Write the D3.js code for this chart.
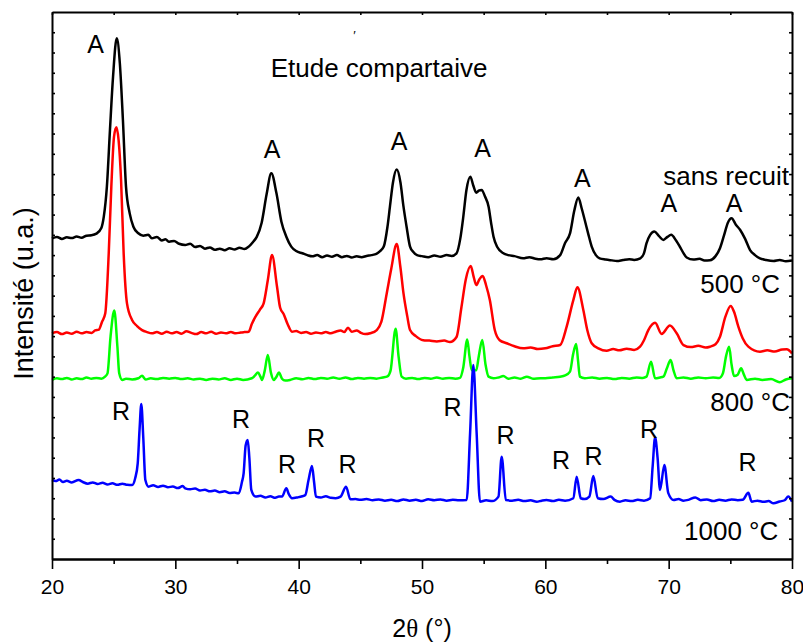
<!DOCTYPE html>
<html><head><meta charset="utf-8">
<script src="https://cdn.jsdelivr.net/npm/d3@7"></script>
<style>body{margin:0;background:#fff}</style>
</head><body><svg id="c" width="803" height="643"></svg>
<script>
const xTicksMajor=[20,30,40,50,60,70,80];
const xTicksMinor=[25,35,45,55,65,75];
const yTicks=d3.range(100,2700,100);

const sansRecuit=[[20.0,1582],[20.4,1590],[20.8,1580],[21.2,1588],[21.6,1584],[22.0,1592],[22.4,1586],[22.8,1596],[23.2,1598],[23.6,1606],[24.0,1634],[24.2,1690],[24.45,1838],[24.7,2118],[24.95,2381],[25.25,2570],[25.5,2447],[25.75,2167],[26.0,1838],[26.3,1706],[26.6,1640],[27.0,1608],[27.4,1596],[27.8,1600],[28.1,1583],[28.5,1590],[28.9,1572],[29.2,1578],[29.5,1566],[29.9,1570],[30.3,1556],[30.8,1550],[31.2,1556],[31.6,1540],[32.0,1545],[32.4,1532],[32.8,1538],[33.2,1526],[33.6,1532],[34.0,1524],[34.4,1534],[34.8,1528],[35.2,1536],[35.6,1530],[35.95,1542],[36.3,1565],[36.6,1590],[37.0,1660],[37.4,1800],[37.78,1904],[38.2,1805],[38.6,1665],[39.0,1591],[39.4,1542],[39.8,1520],[40.3,1509],[40.7,1500],[41.1,1494],[41.5,1500],[41.9,1490],[42.3,1498],[42.7,1492],[43.1,1500],[43.5,1490],[43.9,1496],[44.3,1488],[44.7,1494],[45.1,1490],[45.5,1496],[45.9,1500],[46.3,1506],[46.6,1520],[46.9,1542],[47.2,1640],[47.4,1739],[47.65,1860],[47.95,1922],[48.25,1860],[48.5,1739],[48.75,1640],[49.03,1542],[49.3,1515],[49.6,1500],[50.0,1495],[50.5,1490],[51.0,1498],[51.5,1492],[52.0,1500],[52.4,1496],[52.8,1509],[53.1,1580],[53.35,1690],[53.6,1820],[53.92,1887],[54.15,1845],[54.4,1808],[54.6,1818],[54.84,1822],[55.1,1790],[55.4,1739],[55.6,1660],[55.8,1591],[56.1,1540],[56.6,1509],[57.0,1500],[57.5,1495],[58.2,1484],[58.7,1490],[59.2,1482],[59.6,1479],[60.1,1485],[60.65,1480],[61.2,1500],[61.6,1560],[62.0,1607],[62.35,1720],[62.67,1784],[62.95,1730],[63.2,1672],[63.5,1600],[63.76,1542],[64.1,1500],[64.4,1484],[64.9,1478],[65.4,1474],[65.8,1471],[66.3,1476],[66.8,1480],[67.2,1476],[67.7,1484],[68.0,1510],[68.2,1558],[68.5,1600],[68.84,1616],[69.2,1595],[69.57,1575],[69.9,1590],[70.2,1600],[70.6,1572],[70.9,1542],[71.2,1510],[71.46,1488],[72.0,1478],[72.5,1482],[72.9,1474],[73.35,1475],[73.8,1495],[74.16,1534],[74.5,1600],[74.8,1660],[75.1,1682],[75.45,1650],[75.8,1624],[76.2,1580],[76.6,1525],[77.0,1500],[77.4,1484],[77.9,1476],[78.5,1471],[79.0,1476],[79.5,1470],[80.0,1473]];

const recuit500=[[20.0,1114],[20.4,1120],[20.8,1110],[21.2,1118],[21.6,1112],[22.0,1122],[22.4,1114],[22.8,1120],[23.2,1116],[23.5,1128],[23.8,1132],[24.05,1170],[24.32,1213],[24.6,1509],[24.81,1838],[25.03,2085],[25.22,2131],[25.4,2068],[25.6,1871],[25.81,1509],[26.08,1262],[26.49,1180],[26.9,1150],[27.3,1130],[27.7,1120],[28.1,1114],[28.5,1120],[28.9,1112],[29.3,1122],[29.7,1114],[30.1,1120],[30.5,1112],[30.9,1124],[31.3,1116],[31.7,1110],[32.1,1120],[32.5,1114],[32.9,1122],[33.3,1112],[33.7,1118],[34.1,1114],[34.5,1120],[34.9,1114],[35.3,1118],[35.6,1120],[35.95,1122],[36.2,1160],[36.5,1196],[36.85,1230],[37.16,1262],[37.5,1377],[37.84,1500],[38.24,1346],[38.5,1240],[38.78,1209],[39.1,1160],[39.46,1122],[39.8,1125],[40.2,1116],[40.6,1120],[41.0,1112],[41.4,1118],[41.8,1114],[42.2,1120],[42.6,1114],[43.0,1122],[43.4,1128],[43.7,1120],[44.0,1142],[44.3,1122],[44.7,1128],[45.0,1118],[45.4,1110],[45.8,1114],[46.33,1130],[46.7,1170],[47.14,1311],[47.5,1430],[47.95,1555],[48.25,1440],[48.5,1311],[48.8,1200],[49.03,1130],[49.5,1100],[50.1,1080],[50.6,1078],[51.2,1074],[51.8,1078],[52.27,1071],[52.8,1096],[53.2,1244],[53.55,1380],[53.95,1446],[54.2,1390],[54.4,1352],[54.65,1380],[54.92,1397],[55.2,1350],[55.5,1278],[55.9,1130],[56.3,1080],[56.87,1065],[57.5,1050],[58.2,1040],[58.8,1044],[59.4,1036],[60.0,1040],[60.6,1050],[61.2,1056],[61.73,1147],[62.27,1278],[62.6,1341],[63.08,1229],[63.4,1130],[63.76,1065],[64.3,1040],[64.97,1028],[65.5,1036],[66.0,1030],[66.6,1038],[67.2,1032],[67.68,1048],[68.0,1080],[68.35,1130],[68.9,1166],[69.43,1111],[70.1,1152],[70.65,1114],[71.2,1056],[71.8,1046],[72.4,1052],[73.0,1044],[73.35,1048],[73.8,1060],[74.16,1097],[74.6,1196],[75.03,1249],[75.3,1220],[75.65,1147],[76.0,1090],[76.46,1048],[77.4,1023],[78.0,1030],[78.6,1024],[79.2,1034],[79.57,1035],[80.0,1015]];

const recuit800=[[20.0,884],[20.4,892],[20.8,888],[21.2,894],[21.6,886],[22.0,892],[22.4,888],[22.8,896],[23.2,890],[23.6,894],[24.0,890],[24.3,900],[24.5,916],[24.75,1100],[25.05,1226],[25.3,1050],[25.45,917],[25.7,884],[26.0,890],[26.5,886],[27.0,892],[27.3,904],[27.6,886],[28.0,892],[28.5,888],[29.0,894],[29.5,890],[30.0,894],[30.5,888],[31.0,892],[31.5,886],[32.0,890],[32.5,884],[33.0,890],[33.5,886],[34.0,892],[34.5,884],[35.0,890],[35.5,884],[36.2,892],[36.45,905],[36.7,920],[36.9,900],[37.03,884],[37.25,930],[37.5,1007],[37.75,920],[37.98,884],[38.2,900],[38.4,920],[38.65,890],[38.9,881],[39.3,884],[39.8,892],[40.3,887],[40.8,894],[41.3,888],[41.8,894],[42.3,890],[42.8,896],[43.3,890],[43.8,896],[44.3,888],[44.8,894],[45.3,890],[45.8,894],[46.3,890],[46.8,896],[47.2,902],[47.45,930],[47.86,1137],[48.1,1000],[48.35,900],[48.7,890],[49.2,894],[49.7,888],[50.2,894],[50.7,890],[51.2,896],[51.7,890],[52.2,894],[52.7,890],[53.08,894],[53.35,947],[53.67,1084],[53.85,1000],[54.03,932],[54.4,932],[54.6,1000],[54.89,1081],[55.15,960],[55.4,900],[55.8,892],[56.2,896],[56.6,903],[57.0,890],[57.5,896],[58.0,890],[58.5,900],[59.0,890],[59.6,892],[60.0,892],[60.6,896],[61.19,900],[61.6,906],[62.0,925],[62.25,1010],[62.5,1061],[62.65,980],[62.8,900],[63.2,892],[63.8,896],[64.4,890],[65.0,894],[65.6,888],[66.2,894],[66.8,890],[67.4,896],[67.9,894],[68.2,900],[68.57,974],[68.9,892],[69.3,896],[69.57,900],[69.85,940],[70.16,982],[70.4,930],[70.65,892],[71.2,896],[71.8,890],[72.4,896],[73.0,892],[73.6,896],[74.1,894],[74.4,917],[74.65,1000],[74.9,1048],[75.1,960],[75.3,903],[75.6,910],[75.87,941],[76.1,910],[76.33,884],[77.0,890],[77.6,884],[78.3,888],[79.0,873],[79.5,886],[80.0,892]];

const recuit1000=[[20.0,390],[20.3,385],[20.6,392],[20.9,380],[21.2,386],[21.6,378],[22.16,390],[22.5,380],[22.9,372],[23.3,378],[23.7,370],[24.1,376],[24.5,368],[24.9,374],[25.3,366],[25.7,372],[26.1,366],[26.5,365],[26.75,400],[26.95,472],[27.1,640],[27.24,765],[27.4,600],[27.57,390],[27.84,357],[28.2,364],[28.6,356],[29.0,362],[29.4,354],[29.8,358],[30.2,350],[30.6,360],[30.8,349],[31.2,344],[31.6,348],[32.0,338],[32.4,342],[32.8,334],[33.2,338],[33.6,330],[34.0,334],[34.4,326],[34.8,328],[35.14,324],[35.4,380],[35.54,424],[35.7,560],[35.87,587],[36.0,500],[36.16,341],[36.5,308],[36.9,312],[37.3,304],[37.7,310],[38.1,302],[38.4,308],[38.65,308],[39.0,349],[39.2,320],[39.46,300],[39.9,304],[40.3,310],[40.54,316],[40.8,390],[41.08,459],[41.25,380],[41.4,308],[41.8,304],[42.2,310],[42.6,302],[43.0,300],[43.4,308],[43.84,357],[44.19,295],[44.6,296],[45.0,292],[45.5,296],[46.0,290],[46.5,294],[47.0,288],[47.5,292],[48.0,286],[48.5,294],[49.0,288],[49.5,292],[50.0,286],[50.5,295],[51.0,290],[51.5,294],[52.0,288],[52.5,292],[53.0,290],[53.62,291],[53.9,622],[54.16,958],[54.43,622],[54.7,283],[55.2,290],[55.7,286],[56.2,308],[56.46,505],[56.8,291],[57.3,288],[57.8,292],[58.3,286],[58.8,290],[59.3,283],[59.7,288],[60.1,291],[60.6,286],[61.1,292],[61.6,288],[62.27,300],[62.54,406],[62.87,300],[63.2,296],[63.57,308],[63.89,410],[64.25,300],[64.7,296],[65.3,308],[65.6,292],[66.05,283],[66.5,290],[67.0,286],[67.5,292],[68.0,288],[68.5,300],[68.7,456],[68.9,601],[69.1,500],[69.3,341],[69.65,464],[69.97,325],[70.4,291],[70.8,296],[71.2,288],[71.6,292],[72.16,304],[72.6,290],[73.1,294],[73.6,286],[74.1,292],[74.6,288],[75.1,294],[75.6,290],[76.0,292],[76.46,327],[76.73,283],[77.2,288],[77.7,282],[78.1,286],[78.5,275],[79.0,284],[79.4,290],[79.7,308],[80.0,283]];

const seriesNames=["sans recuit","500 °C","800 °C","1000 °C"];
const seriesColors=["#000000","#ff0000","#00ff00","#0000ff"];
const seriesLabelPos=[[79.75,1846],[79.03,1315],[79.84,732],[78.89,94]];
const anataseLabels=[[23.53,2498],[37.84,1979],[48.14,2019],[54.91,1984],[63.01,1838],[70.02,1714],[75.30,1714]];
const rutileLabels=[[25.59,686],[35.32,645],[39.05,423],[41.41,554],[43.96,426],[52.47,706],[56.77,566],[61.27,443],[63.91,464],[68.41,596],[76.39,436]];
const titleText="Etude compartaive";
const titlePos=[37.73,2379];

const W=803,H=643,m={l:52,r:11,t:12,b:84};
const x=d3.scaleLinear().domain([20,80]).range([m.l,W-m.r]);
const y=d3.scaleLinear().domain([0,2700]).range([H-m.b,m.t]);
const svg=d3.select('#c');
const font='"Liberation Sans", Arial, Helvetica, sans-serif';

const line=d3.line().x(d=>x(d[0])).y(d=>y(d[1])).curve(d3.curveMonotoneX);
[sansRecuit,recuit500,recuit800,recuit1000].forEach((s,i)=>{
  svg.append('path').datum(s).attr('d',line).attr('fill','none')
    .attr('stroke',seriesColors[i]).attr('stroke-width',2.5).attr('stroke-linejoin','round');
});

function styleAxis(g){
  g.selectAll('path.domain').attr('stroke','#000').attr('stroke-width',2);
  g.selectAll('.tick line').attr('stroke','#000').attr('stroke-width',1.6);
  g.selectAll('.tick text').attr('font-family',font).attr('font-size',21).attr('fill','#000');
}
const gb=svg.append('g').attr('transform',`translate(0,${H-m.b})`)
  .call(d3.axisBottom(x).tickValues(xTicksMajor).tickSize(10).tickSizeOuter(0).tickPadding(10).tickFormat(d3.format('d')));
styleAxis(gb);
const gb2=svg.append('g').attr('transform',`translate(0,${H-m.b})`)
  .call(d3.axisBottom(x).tickValues(xTicksMinor).tickSize(5).tickSizeOuter(0).tickFormat(''));
styleAxis(gb2);
const gt=svg.append('g').attr('transform',`translate(0,${m.t})`)
  .call(d3.axisTop(x).tickValues(xTicksMajor.concat(xTicksMinor)).tickSize(-3).tickSizeOuter(0).tickFormat(''));
styleAxis(gt);
const gl=svg.append('g').attr('transform',`translate(${m.l},0)`)
  .call(d3.axisLeft(y).tickValues(yTicks).tickSize(-3).tickSizeOuter(0).tickFormat(''));
styleAxis(gl);
const gr=svg.append('g').attr('transform',`translate(${W-m.r},0)`)
  .call(d3.axisRight(y).tickValues(yTicks).tickSize(-3).tickSizeOuter(0).tickFormat(''));
styleAxis(gr);

function txt(t,px,py,size,anchor){
  return svg.append('text').attr('x',px).attr('y',py).attr('font-family',font)
    .attr('font-size',size).attr('text-anchor',anchor||'middle').attr('fill','#000').text(t);
}
anataseLabels.forEach(p=>txt('A',x(p[0]),y(p[1]),25));
rutileLabels.forEach(p=>txt('R',x(p[0]),y(p[1]),25));
seriesNames.forEach((n,i)=>txt(n,x(seriesLabelPos[i][0]),y(seriesLabelPos[i][1]),26,'end'));
txt(titleText,x(titlePos[0]),y(titlePos[1]),26,'start');
txt('\u2032',x(44.53),y(2560),13,'middle');

// axis titles
const xt=svg.append('text').attr('x',(m.l+W-m.r)/2).attr('y',637).attr('text-anchor','middle')
  .attr('font-family',font).attr('font-size',25).attr('fill','#000');
xt.append('tspan').text('2');
xt.append('tspan').attr('font-family','"Liberation Serif", "Times New Roman", serif').text('\u03b8');
xt.append('tspan').text(' (°)');
svg.append('text').attr('transform',`translate(33,${(m.t+H-m.b)/2+8}) rotate(-90)`)
  .attr('text-anchor','middle').attr('font-family',font).attr('font-size',27).attr('fill','#000')
  .text('Intensité (u.a.)');
</script></body></html>
